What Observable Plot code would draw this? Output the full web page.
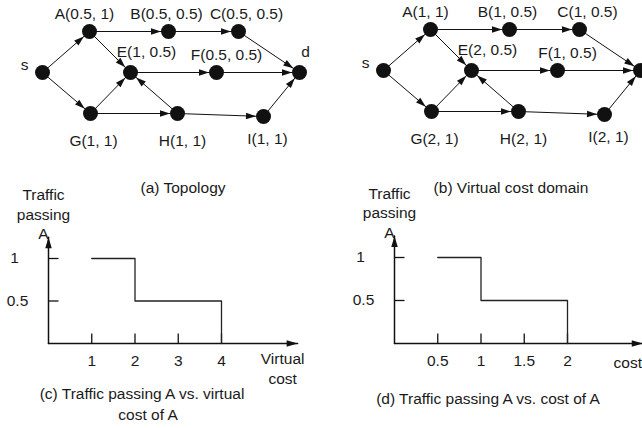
<!DOCTYPE html>
<html>
<head>
<meta charset="utf-8">
<script src="https://cdn.jsdelivr.net/npm/d3@7"></script>
<script src="https://cdn.jsdelivr.net/npm/@observablehq/plot@0.6"></script>
<style>
  html, body { margin: 0; padding: 0; background: #fff; }
  #root { position: relative; width: 642px; height: 428px; overflow: hidden; background: #fff;
          font-family: "Liberation Sans", Arial, sans-serif; color: #1a1a1a; }
  .cap { position: absolute; transform: translate(-50%, -50%); white-space: nowrap; font-size: 15.5px; line-height: 1; }
</style>
</head>
<body>
<div id="root"></div>
<script>
// ---------------- DATA ----------------
// network nodes: name, cost, capacity (panel a) and virtual cost (panel b)
const nodeNames    = ["s", "A", "B", "C", "E", "F", "d", "G", "H", "I"];
const nodeCost     = [null, 0.5, 0.5, 0.5, 1, 0.5, null, 1, 1, 1];
const nodeCapacity = [null, 1, 0.5, 0.5, 0.5, 0.5, null, 1, 1, 1];
const nodeVirtual  = [null, 1, 1, 1, 2, 1, null, 2, 2, 2];
// directed edges
const edgeFrom = ["s", "s", "A", "B", "C", "A", "E", "F", "G", "G", "H", "H", "I"];
const edgeTo   = ["A", "G", "B", "C", "d", "E", "F", "d", "E", "H", "E", "I", "d"];

// (c) traffic passing A vs. virtual cost of A (step-after breakpoints)
const virtualCostC = [1, 2, 4];
const trafficC     = [1, 0.5, 0];
const xTicksC      = [1, 2, 3, 4];
// (d) traffic passing A vs. cost of A
const costD        = [0.5, 1, 2];
const trafficD     = [1, 0.5, 0];
const xTicksD      = [0.5, 1, 1.5, 2];
const yTicks       = [1, 0.5];

// ---------------- LAYOUT (graph drawing positions, layout units) ----------------
const layoutX = [42, 89, 168, 238, 130, 216, 299, 90, 177, 263];
const layoutY = [72, 31, 31, 31, 72, 72, 72, 113, 113, 116];
const labelOffX = [-18, -5, -2, 8, 16, 10, 6, 3, 5, 4];
const labelOffY = [-7, -17.5, -17, -17.5, -20, -17, -20, 28, 28, 23];

const FONT = '"Liberation Sans", Arial, sans-serif';
const FS = 15.5;
const INK = "#1a1a1a";
const root = document.getElementById("root");

function arrowSym(L, W) {
  return { draw(ctx) { ctx.moveTo(0, 0); ctx.lineTo(-L, -W / 2); ctx.lineTo(-L, W / 2); ctx.closePath(); } };
}
const vTick = { draw(ctx) { ctx.moveTo(0, 0); ctx.lineTo(0, -10); } };
const hTick = { draw(ctx) { ctx.moveTo(0, 0); ctx.lineTo(10, 0); } };

function place(el, left, top) {
  el.style.position = "absolute";
  el.style.left = left + "px";
  el.style.top = top + "px";
  root.appendChild(el);
}

// ---------------- NETWORK PANELS ----------------
const R = 7.5;
const nodes = nodeNames.map((n, i) => ({
  name: n, x: layoutX[i], y: layoutY[i],
  lx: layoutX[i] + labelOffX[i], ly: layoutY[i] + labelOffY[i],
  cost: nodeCost[i], cap: nodeCapacity[i], vcost: nodeVirtual[i]
}));
const byName = Object.fromEntries(nodes.map(n => [n.name, n]));
const edges = edgeFrom.map((f, i) => {
  const a = byName[f], b = byName[edgeTo[i]];
  const dx = b.x - a.x, dy = b.y - a.y, len = Math.hypot(dx, dy);
  return { x1: a.x, y1: a.y, x2: b.x, y2: b.y,
           hx: b.x - dx / len * R, hy: b.y - dy / len * R,
           angle: Math.atan2(dy, dx) * 180 / Math.PI };
});

function netPlot(labelFn, labelNodes) {
  return Plot.plot({
    width: 340, height: 160, margin: 0,
    x: { domain: [0, 340], range: [0, 340], axis: null },
    y: { domain: [0, 160], range: [0, 160], axis: null },
    style: { background: "transparent", overflow: "visible", fontFamily: FONT },
    marks: [
      Plot.link(edges, { x1: "x1", y1: "y1", x2: "x2", y2: "y2", stroke: "#111", strokeWidth: 1 }),
      Plot.dot(edges, { x: "hx", y: "hy", rotate: "angle", symbol: arrowSym(10, 6.5), fill: "#111", stroke: "none" }),
      Plot.dot(nodes, { x: "x", y: "y", r: R, fill: "#111", stroke: "none" }),
      Plot.text(labelNodes, { x: "lx", y: "ly", text: labelFn, fontSize: FS, fontFamily: FONT, fill: INK })
    ]
  });
}
const lab = (a, b) => (d) => (d[a] == null ? d.name : `${d.name}(${d[a]}, ${d[b]})`);
place(netPlot(lab("cost", "cap"), nodes), 0, 0);
// in panel (b) the sink's label lies beyond the picture's right edge
place(netPlot(lab("vcost", "cap"), nodes.filter(n => n.name !== "d")), 341, -2);

// ---------------- STEP PANELS ----------------
function stepPlot({ xs, ys, xTicks, xDomain, xRange, yRange, xEnd, yEnd, xTitle, xTitleDx, xTitleDy }) {
  const steps = xs.map((x, i) => ({ x, y: ys[i] }));
  const yLabelDx = [-34, -31];
  return Plot.plot({
    width: 321, height: 278, margin: 0,
    x: { domain: xDomain, range: xRange, axis: null },
    y: { domain: [0, 1], range: yRange, axis: null },
    style: { background: "transparent", overflow: "visible", fontFamily: FONT },
    marks: [
      Plot.line([[0, 0], [xEnd, 0]], { stroke: "#111", strokeWidth: 1.5 }),
      Plot.line([[0, 0], [0, yEnd]], { stroke: "#111", strokeWidth: 1.5 }),
      Plot.dot([[xEnd, 0]], { x: d => d[0], y: d => d[1], rotate: 0, symbol: arrowSym(11, 6.5), fill: "#111", stroke: "none" }),
      Plot.dot([[0, yEnd]], { x: d => d[0], y: d => d[1], rotate: -90, symbol: arrowSym(11, 6.5), fill: "#111", stroke: "none" }),
      Plot.dot(xTicks, { x: d => d, y: 0, symbol: vTick, stroke: "#111", strokeWidth: 1.3, fill: "none" }),
      Plot.dot(yTicks, { x: 0, y: d => d, symbol: hTick, stroke: "#111", strokeWidth: 1.3, fill: "none" }),
      Plot.line(steps, { x: "x", y: "y", curve: "step-after", stroke: "#222", strokeWidth: 1.3 }),
      Plot.text(xTicks, { x: d => d, y: 0, text: d => String(d), dy: 18, fontSize: FS, fontFamily: FONT, fill: INK }),
      ...yTicks.map((t, i) => Plot.text([t], { x: 0, y: d => d, text: d => String(d), dx: yLabelDx[i], fontSize: FS, fontFamily: FONT, fill: INK })),
      Plot.text(["Traffic\npassing\nA"], { x: 0, y: yEnd, text: d => d, dx: -5, dy: -24, lineHeight: 1.28, fontSize: FS, fontFamily: FONT, fill: INK }),
      Plot.text([xTitle], { x: xEnd, y: 0, text: d => d, dx: xTitleDx, dy: xTitleDy, lineHeight: 1.28, fontSize: FS, fontFamily: FONT, fill: INK })
    ]
  });
}
place(stepPlot({ xs: virtualCostC, ys: trafficC, xTicks: xTicksC, xDomain: [0, 4], xRange: [48, 221],
                 yRange: [193, 108], xEnd: 5.76, yEnd: 1.25, xTitle: "Virtual\ncost", xTitleDx: -15, xTitleDy: 24 }), 0, 150);
place(stepPlot({ xs: costD, ys: trafficD, xTicks: xTicksD, xDomain: [0, 2], xRange: [73, 246],
                 yRange: [193, 107], xEnd: 2.87, yEnd: 1.25, xTitle: "cost", xTitleDx: -15, xTitleDy: 18 }), 321, 150);

// ---------------- CAPTIONS ----------------
const captions = [
  ["(a) Topology", 183, 188],
  ["(b) Virtual cost domain", 511, 188],
  ["(c) Traffic passing A vs. virtual", 142, 394],
  ["cost of A", 148, 415],
  ["(d) Traffic passing A vs. cost of A", 488, 399]
];
for (const [t, x, y] of captions) {
  const d = document.createElement("div");
  d.className = "cap";
  d.textContent = t;
  d.style.left = x + "px";
  d.style.top = y + "px";
  root.appendChild(d);
}
</script>
</body>
</html>
